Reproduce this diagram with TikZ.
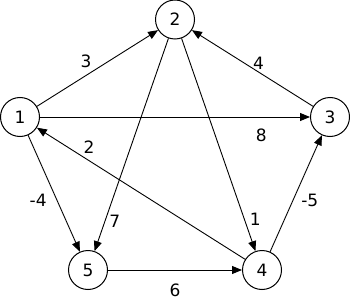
\documentclass[tikz,border=0pt]{standalone}
\usepackage{fontspec}
\setmainfont{DejaVu Sans}
\usetikzlibrary{arrows.meta}
\definecolor{graphink}{HTML}{000000}

\begin{document}
\begin{tikzpicture}[
  x=1pt,
  y=-1pt,
  every node/.style={font=\fontsize{17}{19}\selectfont, text=graphink},
  vertex/.style={draw=graphink, circle, line width=1pt, minimum size=39pt, inner sep=0pt},
  arc/.style={draw=graphink, line width=0.9pt, -{Triangle[length=10pt, width=8pt]}},
  weight/.style={inner sep=2pt}
]
  \useasboundingbox (0,0) rectangle (350,302);

  \node[vertex] (v1) at (20,117) {1};
  \node[vertex] (v2) at (175,19.5) {2};
  \node[vertex] (v3) at (330,117) {3};
  \node[vertex] (v4) at (262,270) {4};
  \node[vertex] (v5) at (88,270) {5};

  \draw[arc] (v1) -- node[weight, pos=0.47, above left] {3} (v2);
  \draw[arc] (v1) -- node[weight, pos=0.82, below=9pt] {8} (v3);
  \draw[arc] (v1) -- node[weight, pos=0.56, left=8pt] {-4} (v5);
  \draw[arc] (v2) -- node[weight, pos=0.86, right=2pt] {7} (v5);
  \draw[arc] (v2) -- node[weight, pos=0.85, right=3pt] {1} (v4);
  \draw[arc] (v3) -- node[weight, pos=0.45, above] {4} (v2);
  \draw[arc] (v4) -- node[weight, pos=0.44, right=6pt] {-5} (v3);
  \draw[arc] (v4) -- node[weight, pos=0.75, above=5pt] {2} (v1);
  \draw[arc] (v5) -- node[weight, midway, below=11pt] {6} (v4);
\end{tikzpicture}
\end{document}
